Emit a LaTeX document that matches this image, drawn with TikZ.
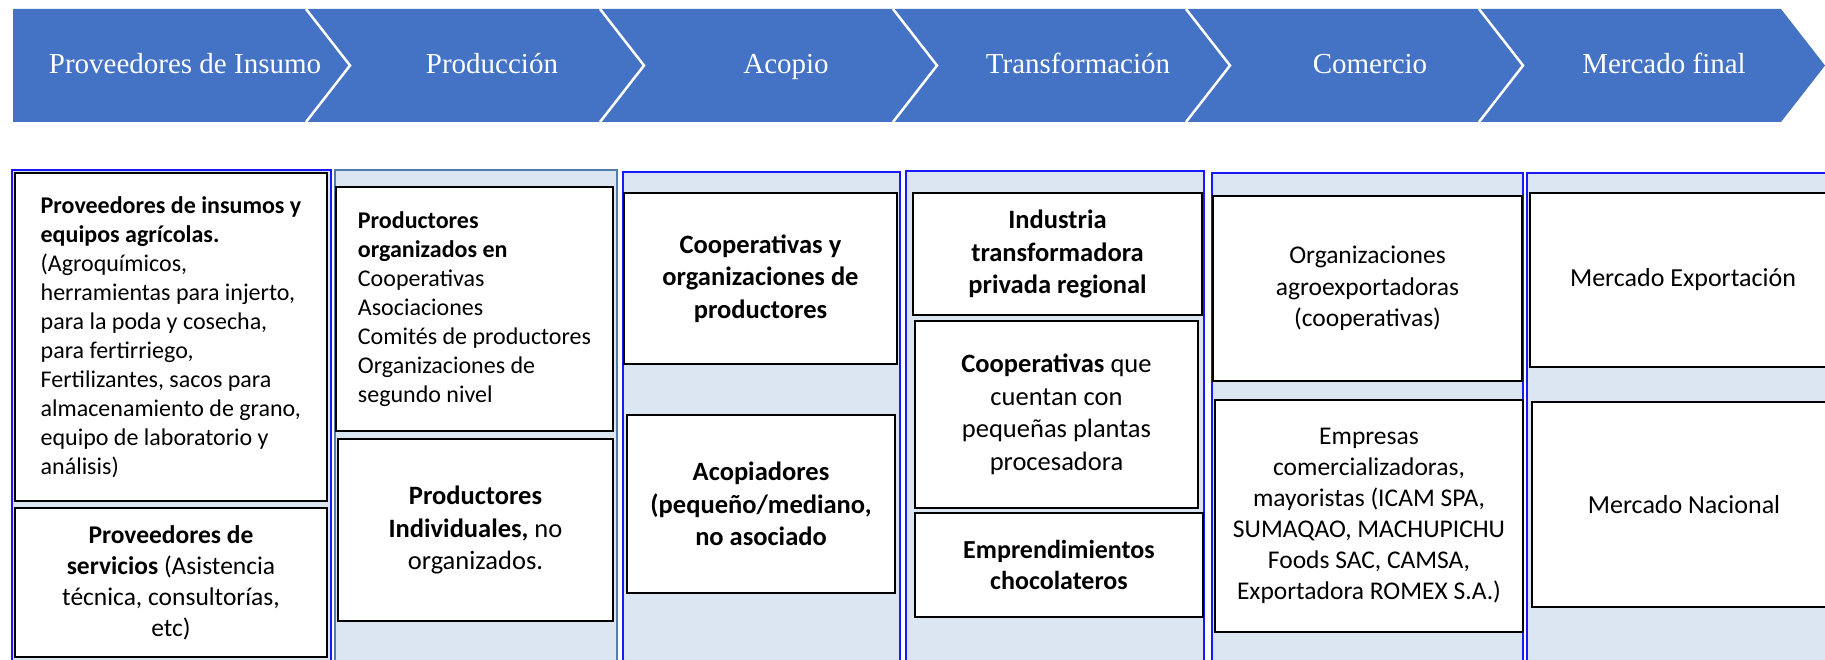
\documentclass[tikz,border=0pt]{standalone}
\usepackage{fontspec}
\setmainfont{Carlito}
\newfontfamily\headfont{Liberation Serif}
\definecolor{bannerblue}{RGB}{68,114,196}
\definecolor{colfill}{RGB}{220,230,242}
\definecolor{colblue}{RGB}{25,25,250}
\definecolor{colsteel}{RGB}{84,126,170}
\tikzset{
  stage/.style={text=white, font=\headfont\fontsize{29}{32}\selectfont, inner sep=0pt, anchor=base},
  column/.style={fill=colfill, line width=2pt},
  actor/.style={draw=black, fill=white, line width=2pt, inner xsep=3pt, inner ysep=0pt,
    align=center, font=\fontsize{26.5}{32.5}\selectfont},
  small/.style={align=left, font=\fontsize{24}{29}\selectfont},
}
\begin{document}
\begin{tikzpicture}[x=1pt,y=-1pt]
\useasboundingbox (0,0) rectangle (1825,660);
\clip (0,0) rectangle (1825,660);
% banner with the stages
\fill[bannerblue] (13,9) -- (1781,9) -- (1825,65.5) -- (1781,122) -- (13,122) -- cycle;
\foreach \x in {306,600,893,1186,1479} % edit here for the notches
\draw[white, line width=2.5pt] (\x,9) -- (\x+44,65.5) -- (\x,122);
\foreach \x/\lab [count=\n] in {185/Proveedores de Insumo, 492/Producción, 786/Acopio,
  1078/Transformación, 1370/Comercio, 1664/Mercado final}
\node[stage] (stage\n) at (\x,74) {\lab};
% columns
\foreach \a/\b/\t/\c in {12/331/170/colblue, 335/617/170/colsteel, 623/900/172/colblue,
  906/1204/171/colblue, 1212/1523/173/colblue, 1527/1840/173/colblue}
\draw[column, draw=\c] (\a,\t) rectangle (\b,690);
% Proveedores de Insumo
\node[actor, small, minimum width=312pt, minimum height=328pt] (insumos) at (171,337)
  {\textbf{Proveedores de insumos y}\\ \textbf{equipos agrícolas.}\\ (Agroquímicos,\\
   herramientas para injerto,\\ para la poda y cosecha,\\ para fertirriego,\\
   Fertilizantes, sacos para\\ almacenamiento de grano,\\ equipo de laboratorio y\\ análisis)};
\node[actor, font=\fontsize{25.5}{31}\selectfont, minimum width=312pt, minimum height=149pt] (servicios) at (171,582.5)
  {\textbf{Proveedores de}\\ \textbf{servicios} (Asistencia\\ técnica, consultorías,\\ etc)};
% Produccion
\node[actor, small, minimum width=277pt, minimum height=244pt] (organizados) at (474.5,309)
  {\textbf{Productores}\\ \textbf{organizados en}\\ Cooperativas\\ Asociaciones\\
   Comités de productores\\ Organizaciones de\\ segundo nivel};
\node[actor, minimum width=275pt, minimum height=182pt] (individuales) at (475.5,530)
  {\textbf{Productores}\\ \textbf{Individuales,} no\\ organizados.};
% Acopio
\node[actor, minimum width=273pt, minimum height=171pt] (coopacopio) at (760.5,278.5)
  {\textbf{Cooperativas y}\\ \textbf{organizaciones de}\\ \textbf{productores}};
\node[actor, minimum width=268pt, minimum height=178pt] (acopiadores) at (761,504)
  {\textbf{Acopiadores}\\ \textbf{(pequeño/mediano,}\\ \textbf{no asociado}};
% Transformacion
\node[actor, minimum width=289pt, minimum height=122pt] (industria) at (1057.5,254)
  {\textbf{Industria}\\ \textbf{transformadora}\\ \textbf{privada regional}};
\node[actor, minimum width=283pt, minimum height=187pt] (plantas) at (1056.5,414.5)
  {\textbf{Cooperativas} que\\ cuentan con\\ pequeñas plantas\\ procesadora};
\node[actor, font=\fontsize{26}{31.5}\selectfont, minimum width=288pt, minimum height=104pt] (chocolateros) at (1059,565)
  {\textbf{Emprendimientos}\\ \textbf{chocolateros}};
% Comercio
\node[actor, font=\fontsize{25.5}{31.5}\selectfont, minimum width=309pt, minimum height=185pt] (agroexport) at (1367.5,288.5)
  {Organizaciones\\ agroexportadoras\\ (cooperativas)};
\node[actor, font=\fontsize{25.5}{31}\selectfont, minimum width=308pt, minimum height=232pt] (empresas) at (1369,516)
  {Empresas\\ comercializadoras,\\ mayoristas (ICAM SPA,\\ SUMAQAO, MACHUPICHU\\
   Foods SAC, CAMSA,\\ Exportadora ROMEX S.A.)};
% Mercado final
\node[actor, font=\fontsize{26}{31.5}\selectfont, minimum width=306pt, minimum height=174pt] (exportacion) at (1683,280)
  {Mercado Exportación};
\node[actor, font=\fontsize{26}{31.5}\selectfont, minimum width=304pt, minimum height=205pt] (nacional) at (1684,504.5)
  {Mercado Nacional};
\end{tikzpicture}
\end{document}
